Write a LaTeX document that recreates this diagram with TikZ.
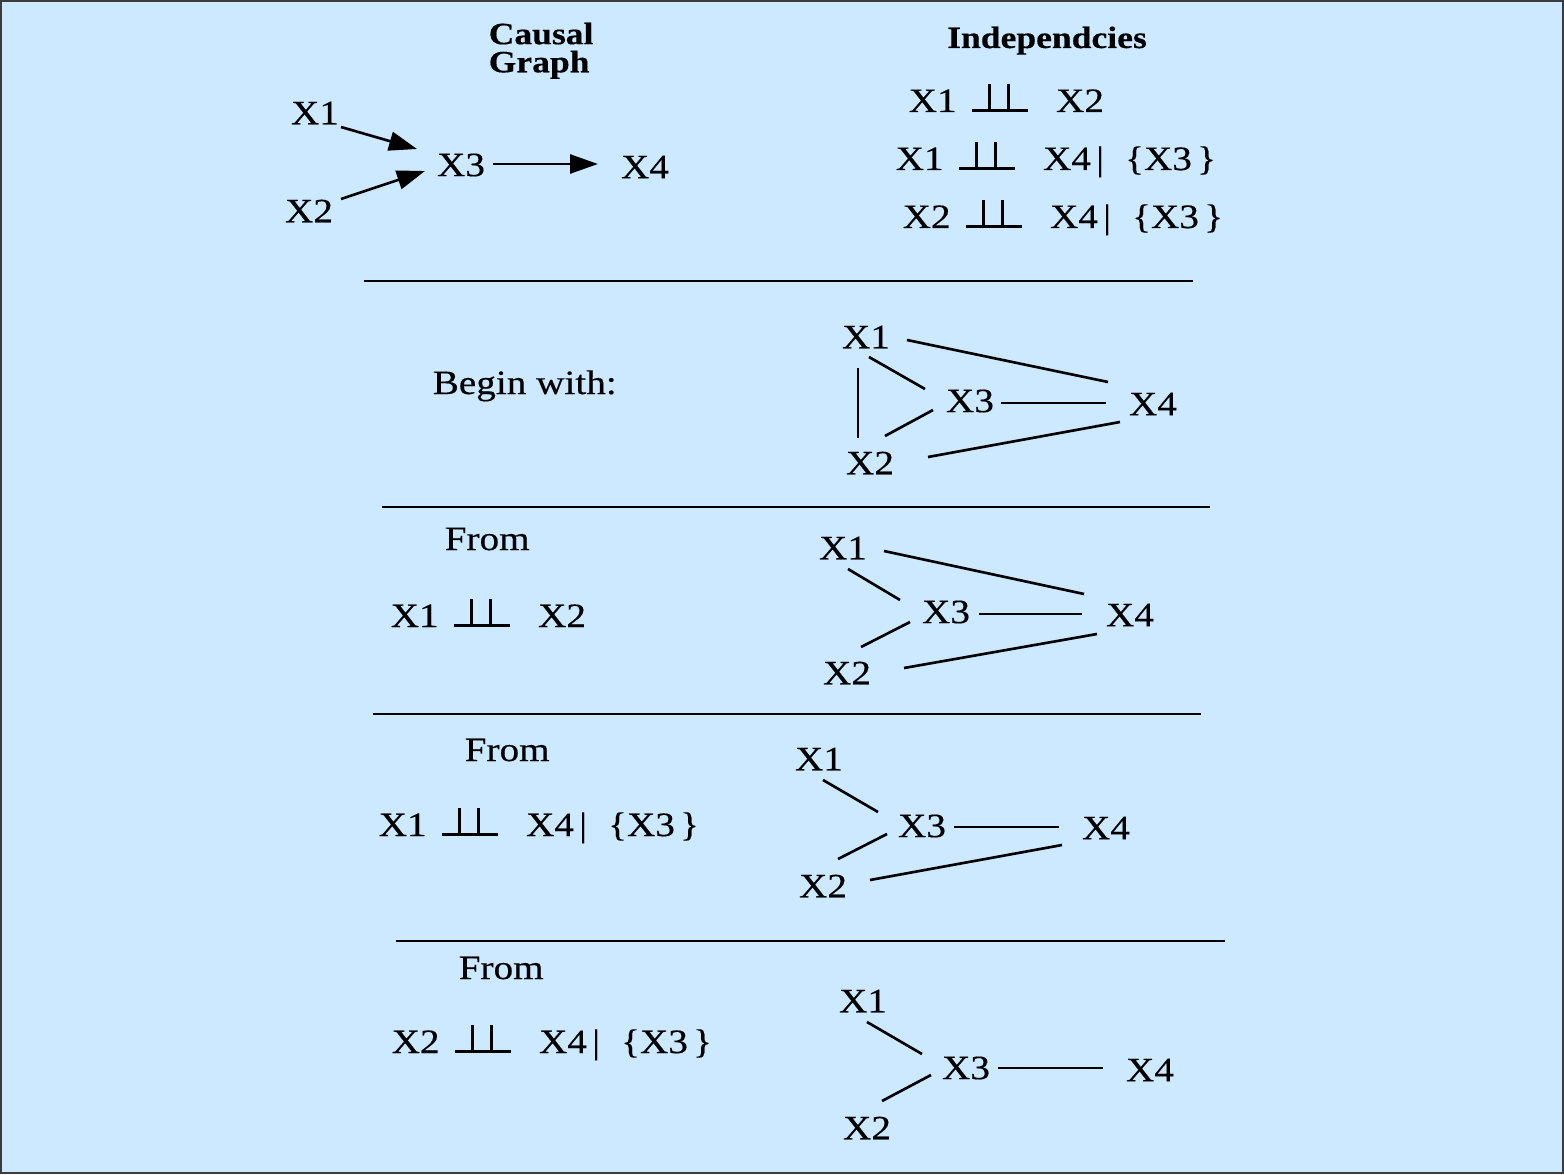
\documentclass[tikz,border=0pt]{standalone}
\usepackage{fontspec}
\setmainfont{Liberation Serif}[FakeStretch=1.15,FakeBold=0.4]
\usetikzlibrary{calc,arrows.meta}
\definecolor{bgblue}{RGB}{204,233,255}
\definecolor{framegray}{RGB}{60,60,60}
\newcommand{\indepsym}{\makebox[15.8pt][l]{\rule{15.8pt}{0.75pt}\hspace{-11.3pt}\rule{0.75pt}{8pt}\hspace{4.55pt}\rule{0.75pt}{8pt}}}
\newcommand{\indline}[2]{#1\hspace{4.5pt}\indepsym\hspace{8pt}#2}
\newcommand{\givenset}[1]{\hspace{1.5pt}|\hspace{6pt}\{#1\hspace{1.5pt}\}}
\begin{document}
\begin{tikzpicture}[x=0.1mm,y=-0.1mm,
  every node/.style={inner sep=0pt, font=\fontsize{9.7}{11.5}\selectfont},
  txt/.style={anchor=base west},
  lbl/.style={anchor=center},
  title/.style={font=\fontsize{8.8}{8}\selectfont\bfseries},
  edge/.style={line width=0.75pt},
  arr/.style={line width=0.75pt,-{Triangle[length=2.8mm,width=1.9mm]}},
  sep/.style={line width=0.75pt}]
\useasboundingbox (0,0) rectangle (1564,1174);
\fill[bgblue] (0,0) rectangle (1564,1174);
\draw[framegray,line width=0.6pt] (1,1) rectangle (1563,1173);

% titles
\node[title,align=left,anchor=north west] (tcausal) at (488,22) {Causal\\Graph};
\node[title,anchor=base] (tindep) at (1047,48) {Independcies};

% causal graph
\node[lbl] (c1) at (315,113) {X1};
\node[lbl] (c2) at (309,211) {X2};
\node[lbl] (c3) at (461,165) {X3};
\node[lbl] (c4) at (645,167) {X4};
\draw[arr] ($(c1)+(26,14)$) -- ($(c3)+(-44,-16)$);
\draw[arr] ($(c2)+(32,-12)$) -- ($(c3)+(-36,6)$);
\draw[arr] ($(c3)+(32,-1)$) -- ($(c4)+(-47,-3)$);

% independencies
\node[txt] (i1) at (908,112) {\indline{X1}{X2}};
\node[txt] (i2) at (895,170) {\indline{X1}{X4}\givenset{X3}};
\node[txt] (i3) at (902,228) {\indline{X2}{X4}\givenset{X3}};

% separators
\draw[sep] (364,281) -- (1193,281);
\draw[sep] (382,507) -- (1210,507);
\draw[sep] (373,714) -- (1201,714);
\draw[sep] (396,941) -- (1225,941);

% section 2
\node[txt] (begin) at (432,394) {Begin with:};
\node[lbl] (b1) at (866,337) {X1};
\node[lbl] (b3) at (970,401) {X3};
\node[lbl] (b4) at (1153,404) {X4};
\node[lbl] (b2) at (870,463) {X2};
\draw[edge] ($(b1)+(41,3)$) -- ($(b4)+(-45,-22)$);
\draw[edge] ($(b1)+(3,20)$) -- ($(b3)+(-45,-12)$);
\draw[edge] ($(b1)+(-8,31)$) -- ($(b2)+(-12,-25)$);
\draw[edge] ($(b3)+(-37,9)$) -- ($(b2)+(15,-27)$);
\draw[edge] ($(b3)+(31,2)$) -- ($(b4)+(-47,-1)$);
\draw[edge] ($(b2)+(58,-6)$) -- ($(b4)+(-33,18)$);

% section 3
\node[txt] (from1) at (444,550) {From};
\node[txt] (l1) at (390,627) {\indline{X1}{X2}};
\node[lbl] (f1) at (843,548) {X1};
\node[lbl] (f3) at (946,612) {X3};
\node[lbl] (f4) at (1130,615) {X4};
\node[lbl] (f2) at (847,673) {X2};
\draw[edge] ($(f1)+(41,3)$) -- ($(f4)+(-46,-21)$);
\draw[edge] ($(f1)+(5,21)$) -- ($(f3)+(-46,-12)$);
\draw[edge] ($(f3)+(-36,10)$) -- ($(f2)+(14,-26)$);
\draw[edge] ($(f3)+(33,2)$) -- ($(f4)+(-48,-1)$);
\draw[edge] ($(f2)+(57,-5)$) -- ($(f4)+(-33,19)$);

% section 4
\node[txt] (from2) at (464,761) {From};
\node[txt] (l2) at (378,836) {\indline{X1}{X4}\givenset{X3}};
\node[lbl] (g1) at (819,759) {X1};
\node[lbl] (g3) at (922,826) {X3};
\node[lbl] (g4) at (1106,828) {X4};
\node[lbl] (g2) at (823,886) {X2};
\draw[edge] ($(g1)+(4,21)$) -- ($(g3)+(-44,-14)$);
\draw[edge] ($(g3)+(-35,8)$) -- ($(g2)+(15,-27)$);
\draw[edge] ($(g3)+(32,1)$) -- ($(g4)+(-47,-1)$);
\draw[edge] ($(g2)+(47,-6)$) -- ($(g4)+(-44,17)$);

% section 5
\node[txt] (from3) at (458,979) {From};
\node[txt] (l3) at (391,1053) {\indline{X2}{X4}\givenset{X3}};
\node[lbl] (h1) at (863,1001) {X1};
\node[lbl] (h3) at (966,1068) {X3};
\node[lbl] (h4) at (1150,1070) {X4};
\node[lbl] (h2) at (867,1128) {X2};
\draw[edge] ($(h1)+(4,21)$) -- ($(h3)+(-44,-14)$);
\draw[edge] ($(h3)+(-35,7)$) -- ($(h2)+(15,-27)$);
\draw[edge] ($(h3)+(32,0)$) -- ($(h4)+(-47,-2)$);
\end{tikzpicture}
\end{document}
